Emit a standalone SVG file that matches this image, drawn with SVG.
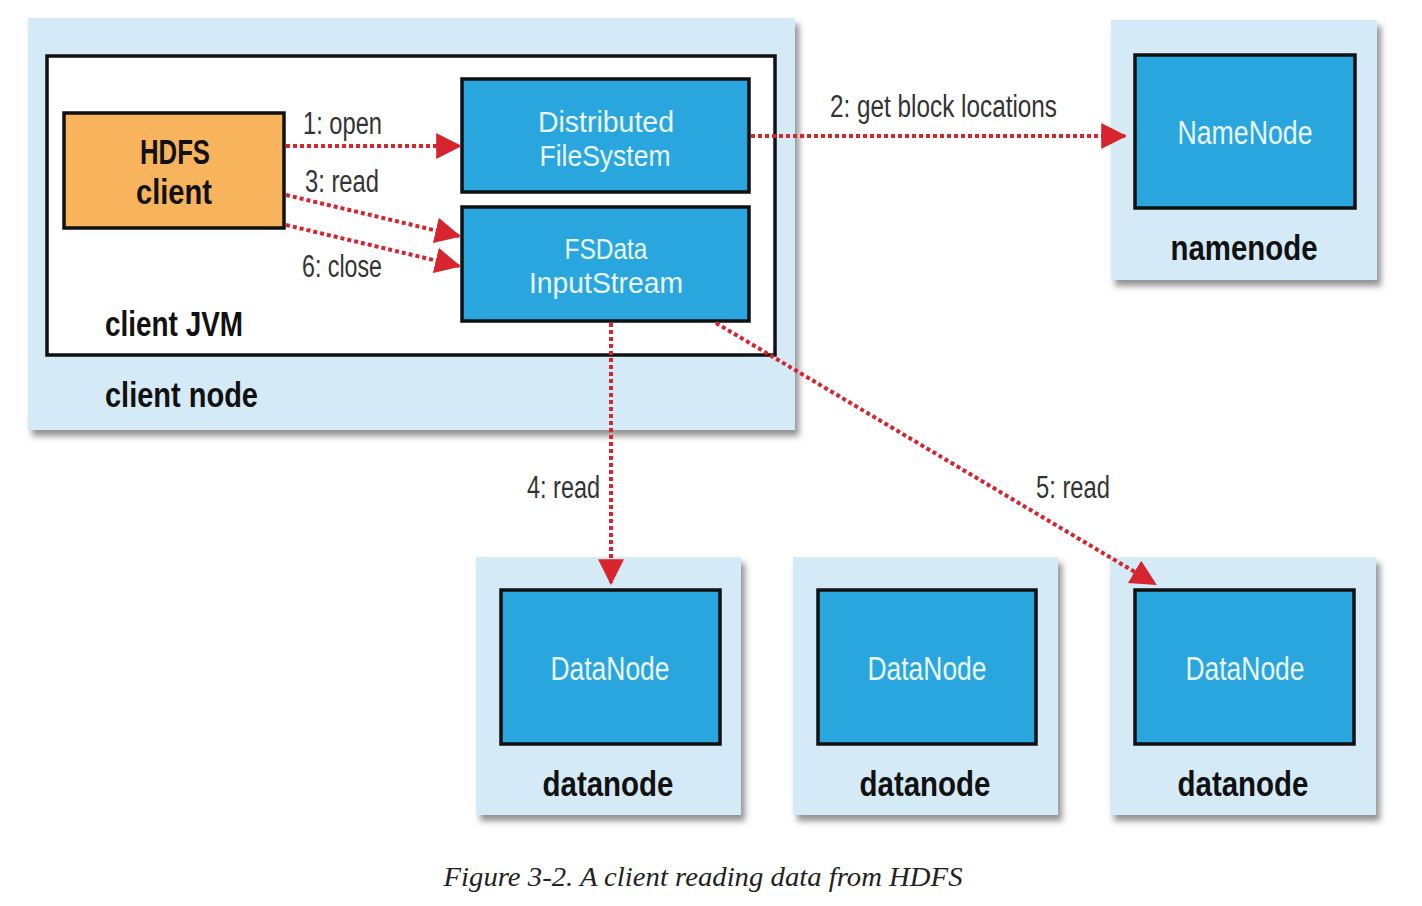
<svg xmlns="http://www.w3.org/2000/svg" width="1422" height="906" viewBox="0 0 1422 906">
  <style>
    .host { fill: #d4eaf7; filter: url(#shadow); }
    .jvm { fill: #ffffff; stroke: #111111; stroke-width: 3.5; }
    .comp { fill: #29a6de; stroke: #111111; stroke-width: 3.5; }
    .client { fill: #f8b35d; stroke: #111111; stroke-width: 3.5; }
    .inner { font-family: "Liberation Sans", Arial, sans-serif; font-size: 34px; fill: #e9f7fd; text-anchor: middle; }
    .two { font-size: 30px; }
    .title { font-family: "Liberation Sans", Arial, sans-serif; font-size: 35px; font-weight: bold; fill: #111111; }
    .mid { text-anchor: middle; }
    .lbl { font-family: "Liberation Sans", Arial, sans-serif; font-size: 31px; fill: #333333; }
    .flow { fill: none; stroke: #d6252f; stroke-width: 4; stroke-dasharray: 4 3; marker-end: url(#arrow); }
    .caption { font-family: "Liberation Serif", "Times New Roman", serif; font-style: italic; font-size: 27px; fill: #222222; text-anchor: middle; }
  </style>
  <defs>
    <filter id="shadow" x="-5%" y="-5%" width="115%" height="115%">
      <feDropShadow dx="4" dy="6" stdDeviation="3" flood-color="#4a4a4a" flood-opacity="0.6"/>
    </filter>
    <marker id="arrow" markerUnits="userSpaceOnUse" markerWidth="26" markerHeight="26" viewBox="0 0 24 24" refX="22" refY="12" orient="auto">
      <path d="M0,0 L24,12 L0,24 Z" fill="#d6252f"/>
    </marker>
  </defs>

  <rect width="1422" height="906" fill="#ffffff"/>

  <!-- client node host with JVM -->
  <g id="client-node">
    <rect class="host" x="28" y="18" width="767" height="412"/>
    <rect class="jvm" x="47" y="56" width="728" height="299"/>
    <text class="title" x="105" y="336" textLength="138" lengthAdjust="spacingAndGlyphs">client JVM</text>
    <text class="title" x="105" y="407" textLength="153" lengthAdjust="spacingAndGlyphs">client node</text>
  </g>

  <g id="hdfs-client">
    <rect class="client" x="64" y="113" width="220" height="115"/>
    <text class="title mid" x="175" y="164" textLength="70" lengthAdjust="spacingAndGlyphs">HDFS</text>
    <text class="title mid" x="174" y="204" textLength="76" lengthAdjust="spacingAndGlyphs">client</text>
  </g>

  <g id="distributed-filesystem">
    <rect class="comp" x="462" y="79" width="287" height="113"/>
    <text class="inner two" x="606" y="132" textLength="136" lengthAdjust="spacingAndGlyphs">Distributed</text>
    <text class="inner two" x="605" y="166" textLength="131" lengthAdjust="spacingAndGlyphs">FileSystem</text>
  </g>

  <g id="fsdata-inputstream">
    <rect class="comp" x="462" y="207" width="287" height="114"/>
    <text class="inner two" x="606" y="259" textLength="83" lengthAdjust="spacingAndGlyphs">FSData</text>
    <text class="inner two" x="606" y="293" textLength="154" lengthAdjust="spacingAndGlyphs">InputStream</text>
  </g>

  <g id="namenode">
    <rect class="host" x="1111" y="20" width="266" height="260"/>
    <rect class="comp" x="1135" y="55" width="220" height="153"/>
    <text class="inner" x="1245" y="144" textLength="135" lengthAdjust="spacingAndGlyphs">NameNode</text>
    <text class="title mid" x="1244" y="260" textLength="147" lengthAdjust="spacingAndGlyphs">namenode</text>
  </g>

  <g id="datanode-1">
    <rect class="host" x="476" y="557" width="265" height="258"/>
    <rect class="comp" x="501" y="590" width="219" height="154"/>
    <text class="inner" x="610" y="680" textLength="119" lengthAdjust="spacingAndGlyphs">DataNode</text>
    <text class="title mid" x="608" y="796" textLength="131" lengthAdjust="spacingAndGlyphs">datanode</text>
  </g>

  <g id="datanode-2">
    <rect class="host" x="793" y="557" width="265" height="258"/>
    <rect class="comp" x="818" y="590" width="218" height="154"/>
    <text class="inner" x="927" y="680" textLength="119" lengthAdjust="spacingAndGlyphs">DataNode</text>
    <text class="title mid" x="925" y="796" textLength="131" lengthAdjust="spacingAndGlyphs">datanode</text>
  </g>

  <g id="datanode-3">
    <rect class="host" x="1110" y="557" width="266" height="258"/>
    <rect class="comp" x="1135" y="590" width="219" height="154"/>
    <text class="inner" x="1245" y="680" textLength="119" lengthAdjust="spacingAndGlyphs">DataNode</text>
    <text class="title mid" x="1243" y="796" textLength="131" lengthAdjust="spacingAndGlyphs">datanode</text>
  </g>

  <!-- read path connectors -->
  <g id="connectors">
    <path class="flow" d="M286,146 L460,146"/>
    <path class="flow" d="M286,195 L459,236"/>
    <path class="flow" d="M286,225 L459,266"/>
    <path class="flow" d="M751,136 L1125,136"/>
    <path class="flow" d="M611,323 L611,583"/>
    <path class="flow" d="M716,323 L1155,584"/>
    <text class="lbl" x="303" y="134" textLength="79" lengthAdjust="spacingAndGlyphs">1: open</text>
    <text class="lbl" x="305" y="192" textLength="74" lengthAdjust="spacingAndGlyphs">3: read</text>
    <text class="lbl" x="302" y="277" textLength="80" lengthAdjust="spacingAndGlyphs">6: close</text>
    <text class="lbl" x="830" y="117" textLength="227" lengthAdjust="spacingAndGlyphs">2: get block locations</text>
    <text class="lbl" x="527" y="498" textLength="73" lengthAdjust="spacingAndGlyphs">4: read</text>
    <text class="lbl" x="1036" y="498" textLength="74" lengthAdjust="spacingAndGlyphs">5: read</text>
  </g>

  <text class="caption" x="703" y="886" textLength="519" lengthAdjust="spacingAndGlyphs">Figure 3-2. A client reading data from HDFS</text>
</svg>
